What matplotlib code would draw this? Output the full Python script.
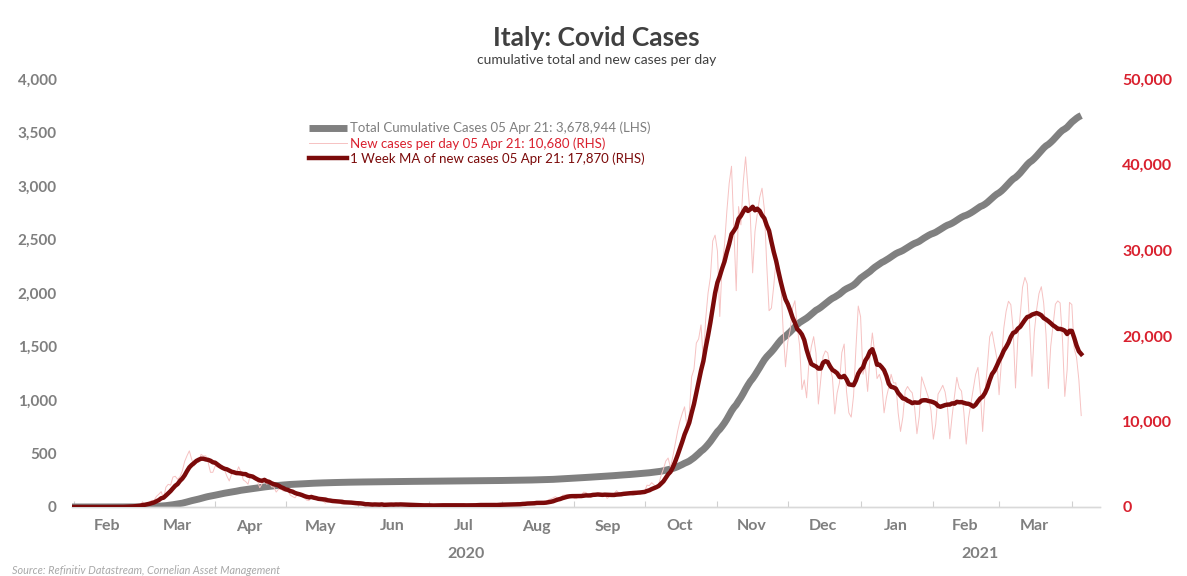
import matplotlib
matplotlib.use("Agg")
import matplotlib.pyplot as plt
import matplotlib.transforms as mtrans
import numpy as np
import pandas as pd

# ---------------- data (Italy daily new cases, read/estimated) ----------------
start_date = "2020-01-31"
jan_2020 = [2]
feb_2020 = [0] * 5 + [1] + [0] * 14 + [17, 59, 78, 72, 94, 147, 185, 234, 239]
mar_2020 = [566, 342, 466, 587, 769, 778, 1247, 1492, 1797, 977,
            2313, 2651, 2547, 3497, 3590, 3233, 3526, 4207, 5322, 5986,
            6557, 5560, 4789, 5249, 5210, 6153, 5959, 5974, 5217, 4050, 4053]
apr_2020 = [4782, 4668, 4585, 4805, 4316, 3599, 3039, 3836, 4204, 3951,
            4694, 4092, 3153, 2972, 2667, 3786, 3493, 3491, 3047, 2256,
            2729, 3370, 2646, 3021, 2357, 2324, 1739, 2091, 2086, 1872]
may_2020 = [1965, 1900, 1389, 1221, 1075, 1444, 1401, 1327, 1083, 802,
            744, 1402, 888, 992, 789, 875, 675, 451, 813, 665,
            642, 652, 669, 531, 300, 397, 584, 593, 516, 416, 355]
jun_2020 = [178, 318, 321, 177, 518, 270, 197, 280, 283, 202,
            379, 163, 346, 338, 301, 210, 329, 333, 251, 262,
            224, 218, 122, 190, 296, 259, 175, 174, 126, 142]
jul_2020 = [187, 201, 223, 235, 192, 208, 138, 193, 229, 276,
            188, 234, 169, 114, 162, 230, 233, 249, 219, 190,
            129, 280, 306, 252, 275, 255, 170, 181, 202, 289, 386]
aug_2020 = [379, 295, 238, 159, 190, 384, 402, 552, 347, 463,
            259, 412, 481, 523, 574, 629, 479, 320, 403, 642,
            845, 947, 1071, 1210, 953, 876, 1367, 1411, 1460, 1444, 1365]
sep_2020 = [996, 978, 1326, 1397, 1733, 1695, 1297, 1108, 1370, 1434,
            1597, 1616, 1501, 1458, 1008, 1229, 1452, 1585, 1907, 1638,
            1587, 1350, 1392, 1640, 1786, 1912, 1869, 1766, 1494, 1648]
oct_2020 = [1851, 2548, 2499, 2844, 2578, 2257, 2677, 3678, 4458, 5372,
            5724, 4619, 5901, 7332, 8804, 10010, 10925, 11705, 9338, 10874,
            15199, 16079, 19143, 19644, 21273, 17012, 21994, 24991, 26831, 31084, 31758]
nov_2020 = [29907, 22253, 28244, 30550, 34505, 37809, 39811, 32616, 25271, 35098,
            32961, 37978, 40902, 37255, 33979, 27354, 32191, 34283, 36176, 37242,
            34767, 28337, 22930, 23232, 25853, 29003, 28352, 26323, 20648, 16377]
dec_2020 = [19350, 20709, 23225, 24099, 21052, 18887, 13720, 14842, 12756, 16999,
            18727, 19903, 17938, 12030, 14844, 17572, 18236, 17992, 16308, 15104,
            10872, 13318, 14522, 18040, 19037, 13500, 11000, 10500, 13000, 18500, 23477]
jan_2021 = [22211, 15500, 16500, 13500, 17500, 20331, 18020, 15000, 15500, 14500,
            11000, 12800, 14000, 15500, 14500, 14500, 11000, 8825, 10497, 13571,
            14078, 13633, 13331, 11629, 8561, 10593, 15204, 14372, 13574, 12715, 11252]
feb_2021 = [7925, 9660, 13189, 13659, 14218, 13442, 11641, 7970, 10630, 12956,
            15146, 13908, 13532, 11068, 7351, 10386, 12074, 13762, 15479, 16310,
            13452, 8824, 13314, 16424, 19886, 20499, 18916, 17455]
mar_2021 = [13114, 17083, 20884, 22865, 24036, 23641, 20765, 13902, 19749, 22409,
            25673, 26824, 26062, 21315, 15267, 20396, 23059, 24935, 25735, 23832,
            20159, 13846, 18765, 21267, 23696, 24076, 23839, 19611, 12916, 16017, 23904]
apr_2021 = [23649, 18500, 17500, 14840, 10680]

left_ticks = [0, 500, 1000, 1500, 2000, 2500, 3000, 3500, 4000]
right_ticks = [0, 10000, 20000, 30000, 40000, 50000]
legend_labels = ["Total Cumulative Cases 05 Apr 21: 3,678,944 (LHS)",
                 "New cases per day 05 Apr 21: 10,680 (RHS)",
                 "1 Week MA of new cases 05 Apr 21: 17,870 (RHS)"]
title = "Italy: Covid Cases"
subtitle = "cumulative total and new cases per day"
source = "Source: Refinitiv Datastream, Cornelian Asset Management"

daily_vals = (jan_2020 + feb_2020 + mar_2020 + apr_2020 + may_2020 + jun_2020 +
              jul_2020 + aug_2020 + sep_2020 + oct_2020 + nov_2020 + dec_2020 +
              jan_2021 + feb_2021 + mar_2021 + apr_2021)
dates = pd.date_range(start_date, periods=len(daily_vals), freq="D")
daily = pd.Series(daily_vals, index=dates, dtype=float)
cum_k = daily.cumsum() / 1000.0
ma7 = daily.rolling(7, min_periods=1).mean()

# ---------------- styling ----------------
GRAY = "#808080"
LABEL_GRAY = "#7f7f7f"
RED = "#d9202e"
DARK_RED = "#7b0a0a"
PINK = "#f6c2c2"
FONT = ["Lato", "DejaVu Sans"]
plt.rcParams["font.family"] = FONT

fig = plt.figure(figsize=(11.87, 5.76), dpi=100)
ax = fig.add_axes([72 / 1187, 69 / 576, 1028 / 1187, 428 / 576])
ax2 = ax.twinx()

l_cum, = ax.plot(cum_k.index, cum_k.values, color=GRAY, lw=5.0,
                 solid_capstyle="butt", zorder=2)
l_daily, = ax2.plot(daily.index, daily.values, color=PINK, lw=0.7, zorder=1)
l_ma, = ax2.plot(ma7.index, ma7.values, color=DARK_RED, lw=3.2, zorder=3)

ax.set_ylim(0, 4000)
ax2.set_ylim(0, 50000)
ax.set_yticks(left_ticks)
ax2.set_yticks(right_ticks)
ax.set_yticklabels([f"{v:,}" for v in left_ticks])
ax2.set_yticklabels([f"{v:,}" for v in right_ticks])

x0 = pd.Timestamp("2020-01-31")
x1 = pd.Timestamp("2021-04-13")
ax.set_xlim(x0, x1)

for a in (ax, ax2):
    for s in ("top", "left", "right"):
        a.spines[s].set_visible(False)
    a.spines["bottom"].set_color("#d9d9d9")
    a.spines["bottom"].set_linewidth(1.0)

ax.tick_params(axis="y", length=0, pad=11, labelsize=11, labelcolor=LABEL_GRAY)
ax2.tick_params(axis="y", length=0, pad=16, labelsize=11.5, labelcolor=RED)
for t in ax.get_yticklabels():
    t.set_fontweight("bold")
for t in ax2.get_yticklabels():
    t.set_fontweight("bold")

# month boundaries as major ticks, labels at mid-month
month_starts = pd.date_range("2020-02-01", "2021-04-01", freq="MS")
ax.set_xticks(month_starts)
ax.set_xticklabels([])
ax.tick_params(axis="x", which="major", direction="in", length=4,
               color="#d0d0d0", width=0.8)
mids = [m + pd.Timedelta(days=(m + pd.offsets.MonthEnd(0) - m).days / 2.0)
        for m in month_starts[:-1]]
ax.set_xticks(mids, minor=True)
ax.set_xticklabels([m.strftime("%b") for m in month_starts[:-1]], minor=True)
ax.tick_params(axis="x", which="minor", length=0, pad=9, labelsize=11.5,
               labelcolor=LABEL_GRAY)
for t in ax.get_xticklabels(minor=True):
    t.set_fontweight("bold")

# year labels
trans = mtrans.blended_transform_factory(ax.transData, ax.transAxes)
y2020_mid = x0 + (pd.Timestamp("2021-01-01") - x0) / 2
y2021_mid = pd.Timestamp("2021-01-01") + (x1 - pd.Timestamp("2021-01-01")) / 2
ax.text(y2020_mid, -0.11, "2020", transform=trans, ha="center", va="center",
        fontsize=11.5, color=LABEL_GRAY, fontweight="bold")
ax.text(y2021_mid, -0.11, "2021", transform=trans, ha="center", va="center",
        fontsize=11.5, color=LABEL_GRAY, fontweight="bold")

# legend
leg = ax2.legend([l_cum, l_daily, l_ma], legend_labels, loc="upper left",
                 bbox_to_anchor=(0.225, 0.912), frameon=False, fontsize=9.5,
                 handlelength=2.9, handletextpad=0.25, labelspacing=0.2,
                 borderaxespad=0)
for txt, c in zip(leg.get_texts(), [LABEL_GRAY, RED, DARK_RED]):
    txt.set_color(c)

# titles and source
fig.text(596 / 1187, 1 - 38 / 576, title, ha="center", va="center",
         fontsize=19, fontweight="bold", color="#404040")
fig.text(597 / 1187, 1 - 60 / 576, subtitle, ha="center", va="center",
         fontsize=10, color="#404040")
fig.text(12 / 1187, 1 - 571 / 576, source, ha="left", va="center",
         fontsize=7.8, style="italic", color="#a8a8a8")

fig.savefig("out.png", dpi=100)
